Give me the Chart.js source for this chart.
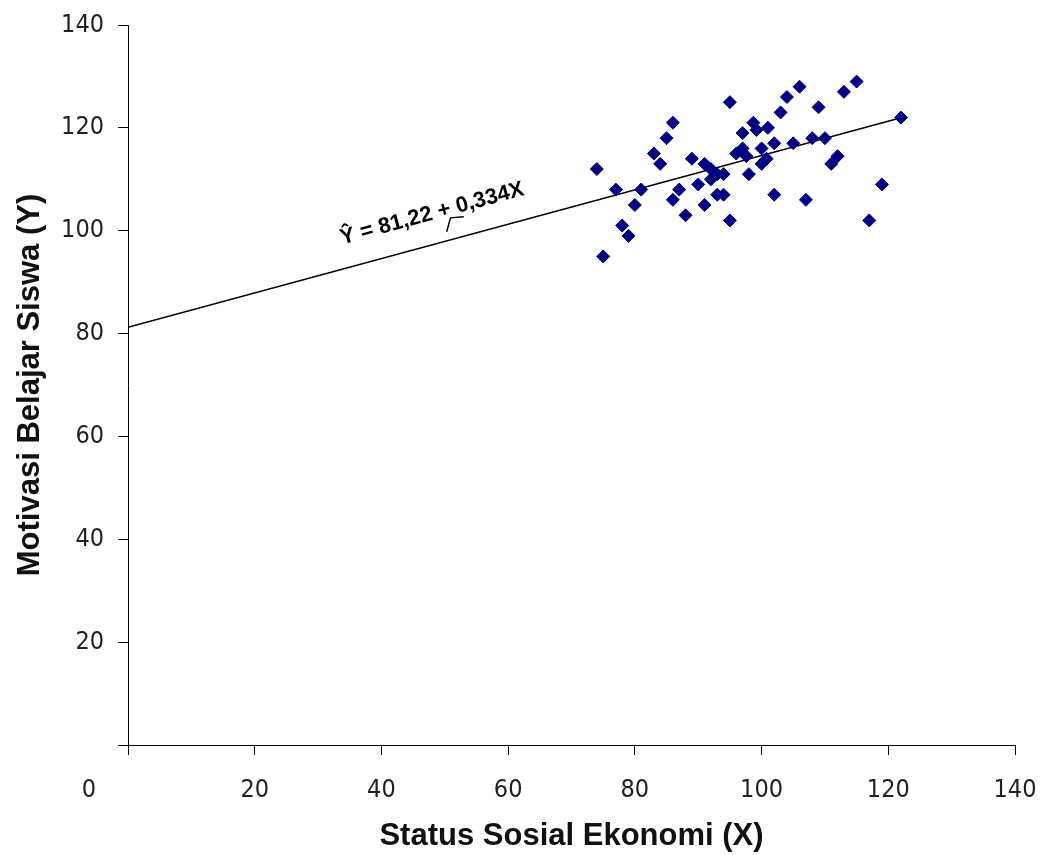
<!DOCTYPE html>
<html>
<head>
<meta charset="utf-8">
<script src="https://cdn.jsdelivr.net/npm/chart.js@4.4.1/dist/chart.umd.min.js"></script>
<style>
  html, body { margin: 0; padding: 0; background: #fff; }
  canvas { display: block; }
</style>
</head>
<body>
<canvas id="c" width="1043" height="855"></canvas>
<script>
// ---- data ----
const statusX = [74, 75, 77, 78, 79, 80, 81, 83, 84, 85, 86, 86, 87, 88, 89, 90, 91, 91, 92, 92,
                 93, 93, 94, 94, 95, 95, 96, 97, 97, 97.6, 98, 98.7, 99.2, 100, 100, 101, 100.8, 102, 102, 103,
                 104, 105, 106, 107, 108, 109, 110, 111, 112, 113, 115, 117, 119, 122];
const motivasiY = [112, 95, 108, 101, 99, 105, 108, 115, 113, 118, 121, 106, 108, 103, 114, 109, 113, 105, 112, 110,
                   111, 107, 111, 107, 125, 102, 115, 119, 116, 114.5, 111, 121, 119.6, 116, 113, 120, 114, 117, 107, 123,
                   126, 117, 128, 106, 118, 124, 118, 113, 114.5, 127, 129, 102, 109, 122];
const lineX = [0, 122];
const lineY = [81.22, 121.97];
const equationText = 'Ŷ = 81,22 + 0,334X';
const equationAnchor = [48, 103.3];
const leaderX = [50.3, 50.9, 53.0];
const leaderY = [99.8, 102.5, 102.7];
const xTitle = 'Status Sosial Ekonomi (X)';
const yTitle = 'Motivasi Belajar Siswa (Y)';
const axisMin = 0, axisMax = 140, axisStep = 20;

const tickFont = { family: "'Liberation Sans Narrow', 'DejaVu Sans Condensed', 'Liberation Sans', sans-serif", size: 25 };
const titleFont = { family: "'Liberation Sans', Arial, sans-serif", size: 31, weight: 'bold' };

const scatterPoints = statusX.map((x, i) => ({ x, y: motivasiY[i] }));
const linePoints = lineX.map((x, i) => ({ x, y: lineY[i] }));

const extras = {
  id: 'extras',
  afterDraw(chart) {
    const { ctx, scales: { x, y }, chartArea } = chart;
    ctx.save();
    // stray "0" label
    ctx.font = `${tickFont.size}px ${tickFont.family}`;
    ctx.fillStyle = '#222';
    ctx.textAlign = 'center';
    ctx.textBaseline = 'middle';
    ctx.fillText('0', chartArea.left - 39, chartArea.bottom + 45);
    // equation
    const ax = x.getPixelForValue(equationAnchor[0]);
    const ay = y.getPixelForValue(equationAnchor[1]);
    const angle = Math.atan2(y.getPixelForValue(lineY[1]) - y.getPixelForValue(lineY[0]),
                             x.getPixelForValue(lineX[1]) - x.getPixelForValue(lineX[0]));
    ctx.translate(ax, ay);
    ctx.rotate(angle);
    ctx.font = "bold 22px 'Liberation Sans', Arial, sans-serif";
    ctx.fillStyle = '#000';
    ctx.fillText(equationText, 0, 0);
    ctx.restore();
    // leader
    ctx.save();
    ctx.strokeStyle = '#000';
    ctx.lineWidth = 1.5;
    ctx.beginPath();
    leaderX.forEach((lx, i) => {
      const px = x.getPixelForValue(lx), py = y.getPixelForValue(leaderY[i]);
      if (i === 0) ctx.moveTo(px, py); else ctx.lineTo(px, py);
    });
    ctx.stroke();
    ctx.restore();
  }
};

new Chart(document.getElementById('c'), {
  type: 'scatter',
  data: {
    datasets: [
      {
        type: 'line',
        data: linePoints,
        borderColor: '#000',
        borderWidth: 1.5,
        pointRadius: 0,
        fill: false,
        order: 2
      },
      {
        data: scatterPoints,
        pointStyle: 'rectRot',
        pointRadius: 6.5,
        backgroundColor: '#000080',
        borderColor: '#000080',
        borderWidth: 1,
        order: 1
      }
    ]
  },
  options: {
    responsive: false,
    animation: false,
    layout: { padding: { top: 25, right: 28, left: 0, bottom: 0 } },
    plugins: { legend: { display: false }, tooltip: { enabled: false } },
    scales: {
      x: {
        type: 'linear',
        min: axisMin, max: axisMax,
        afterFit(s) { s.height = 110; s.paddingLeft = 0; s.paddingRight = 0; },
        ticks: { stepSize: axisStep, font: tickFont, color: '#222', padding: 20,
                 callback: v => v === 0 ? '' : v, maxRotation: 0 },
        grid: { drawOnChartArea: false, drawTicks: true, tickLength: 10, color: '#000' },
        border: { display: true, color: '#000', width: 1 },
        title: { display: true, text: xTitle, font: titleFont, color: '#111', padding: { top: 0, bottom: 0 } }
      },
      y: {
        type: 'linear',
        min: axisMin, max: axisMax,
        afterFit(s) { s.width = 128; s.paddingTop = 0; s.paddingBottom = 0; },
        ticks: { stepSize: axisStep, font: tickFont, color: '#222', padding: 14,
                 callback: v => v === 0 ? '' : v },
        grid: { drawOnChartArea: false, drawTicks: true, tickLength: 10, color: '#000' },
        border: { display: true, color: '#000', width: 1 },
        title: { display: true, text: yTitle, font: titleFont, color: '#111', padding: { top: 12, bottom: 0 } }
      }
    }
  },
  plugins: [extras]
});
</script>
</body>
</html>
